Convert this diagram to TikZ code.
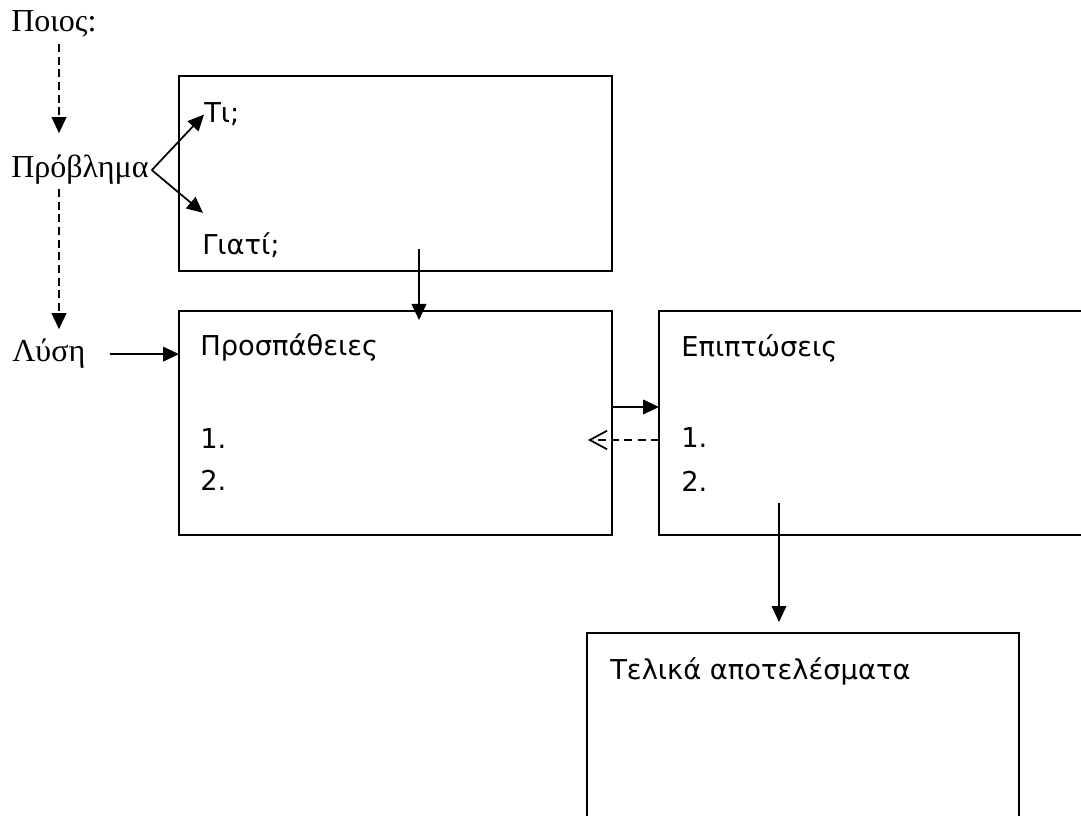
\documentclass[tikz,border=0pt]{standalone}
\usepackage{fontspec}
\setmainfont{Liberation Serif}
\newfontfamily\boxfont{DejaVu Sans}
\usetikzlibrary{arrows.meta,calc}
\tikzset{
 lbl/.style={inner sep=0pt, anchor=base west, font=\fontsize{24}{28}\selectfont},
 btxt/.style={inner sep=0pt, anchor=base west, font=\boxfont\fontsize{20.5}{24}\selectfont},
 box/.style={draw, line width=1.5pt, outer sep=0pt, anchor=north west},
 arr/.style={line width=1.3pt, -{Triangle[length=12pt,width=11pt]}},
 darr/.style={arr, dash pattern=on 6pt off 3.5pt},
 barr/.style={line width=1.3pt, dash pattern=on 6pt off 4pt, -{Straight Barb[length=13pt,width=14pt]}},
}
\begin{document}
\begin{tikzpicture}[x=0.75pt,y=-0.75pt]
\clip (0,0) rectangle (1081,816);
\fill[white] (0,0) rectangle (1081,816);
% boxes
\node[box, minimum width=324.75pt, minimum height=146.25pt] (b1) at (179,76) {};
\node[box, minimum width=324.75pt, minimum height=168pt] (b2) at (179,311) {};
\node[box, minimum width=330pt, minimum height=168pt] (b3) at (659,311) {};
\node[box, minimum width=324pt, minimum height=160pt] (b4) at (587,633) {};
% left labels
\node[lbl] (poios) at (11,32) {Ποιος:};
\node[lbl] (provlima) at (11,178) {Πρόβλημα};
\node[lbl] (lysi) at (12,362) {Λύση};
% box texts
\node[btxt] (ti) at (204,123) {Τι;};
\node[btxt] (giati) at (202,255) {Γιατί;};
\node[btxt] (prosp) at (200,355) {Προσπάθειες};
\node[btxt] (p1) at (200,448) {1.};
\node[btxt] (p2) at (200,490) {2.};
\node[btxt] (epipt) at (681,357) {Επιπτώσεις};
\node[btxt] (e1) at (681,447) {1.};
\node[btxt] (e2) at (681,491) {2.};
\node[btxt] (tel) at (610,679) {Τελικά αποτελέσματα};
% connectors
\coordinate (dx) at (59,0);
\draw[darr] ($(poios.south -| dx)+(0,6)$) -- ($(provlima.north -| dx)+(0,-22)$);
\draw[darr] ($(provlima.south -| dx)+(0,4)$) -- ($(lysi.north -| dx)+(0,-10)$);
\draw[arr] ($(provlima.east)+(3,0)$) -- (ti.west);
\draw[arr] ($(provlima.east)+(3,0)$) -- ($(giati.north west)+(1,-20)$);
\draw[arr] ($(lysi.east)+(24,0)$) -- (lysi.east -| b2.west);
\draw[arr] ($(b1.south west)+(240,-22)$) -- ($(b2.north west)+(240,9)$);
\draw[arr] ($(b2.north east)+(0,96)$) -- ($(b3.north west)+(0,96)$);
\draw[barr] ($(b3.north west)+(0,129)$) -- ($(b2.north east)+(-24,129)$);
\draw[arr] ($(b3.south west)+(120,-32)$) -- ($(b4.north west)+(192,-11)$);
\end{tikzpicture}
\end{document}
